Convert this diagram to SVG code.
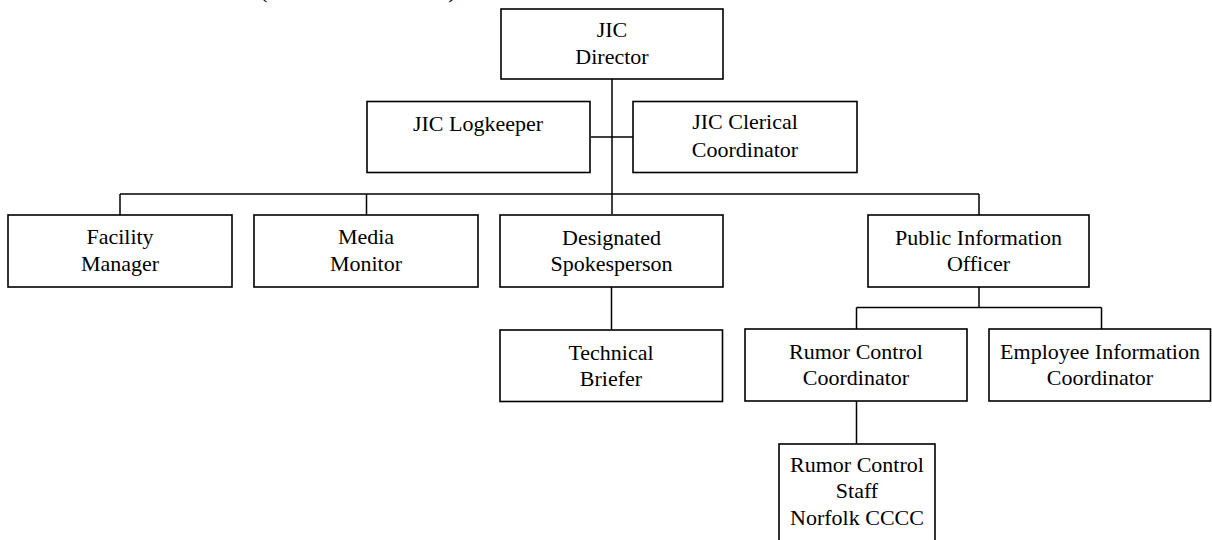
<svg xmlns="http://www.w3.org/2000/svg" width="1212" height="540" viewBox="0 0 1212 540">
<style>
.box{fill:#fff;stroke:#000;stroke-width:1.6}
.t{font-family:"Liberation Serif","Times New Roman",serif;font-size:22px;fill:#000;text-anchor:middle}
.c{fill:none;stroke:#000;stroke-width:1.5}
</style>
<rect width="1212" height="540" fill="#fff"/>
<g id="title-fragment">
<text class="t" x="264" y="-2" font-size="26">(</text>
<text class="t" x="452" y="-2" font-size="26">)</text>
</g>
<g id="connectors">
<path class="c" d="M612 79V214M591 137H633M120 194H979M120 194V215M366.5 194V215M979 194V215"/>
<path class="c" d="M611.5 287V330M979 287V307.5M856.5 307.5H1101.5M856.5 307.5V329M1101.5 307.5V329M856.5 401V444"/>
</g>
<g id="director"><rect class="box" x="501" y="9" width="222" height="70"/><text class="t" x="612" y="37">JIC</text><text class="t" x="612" y="64">Director</text></g>
<g id="logkeeper"><rect class="box" x="367" y="101.5" width="223" height="71"/><text class="t" x="478" y="131">JIC Logkeeper</text></g>
<g id="clerical"><rect class="box" x="633" y="101.5" width="224" height="71"/><text class="t" x="745" y="129">JIC Clerical</text><text class="t" x="745" y="157">Coordinator</text></g>
<g id="facility"><rect class="box" x="8" y="215" width="224" height="72"/><text class="t" x="120" y="244">Facility</text><text class="t" x="120" y="271">Manager</text></g>
<g id="media"><rect class="box" x="254" y="215" width="224" height="72"/><text class="t" x="366" y="244">Media</text><text class="t" x="366" y="271">Monitor</text></g>
<g id="spokesperson"><rect class="box" x="500" y="215" width="223" height="72"/><text class="t" x="611.5" y="245">Designated</text><text class="t" x="611.5" y="271">Spokesperson</text></g>
<g id="pio"><rect class="box" x="868" y="215" width="221" height="72"/><text class="t" x="978.5" y="245">Public Information</text><text class="t" x="978.5" y="271">Officer</text></g>
<g id="technical"><rect class="box" x="500" y="330" width="222.5" height="71.5"/><text class="t" x="611" y="360">Technical</text><text class="t" x="611" y="386">Briefer</text></g>
<g id="rumor-coordinator"><rect class="box" x="745" y="329" width="222" height="72"/><text class="t" x="856" y="359">Rumor Control</text><text class="t" x="856" y="385">Coordinator</text></g>
<g id="employee"><rect class="box" x="989" y="329" width="221.5" height="72"/><text class="t" x="1100" y="359">Employee Information</text><text class="t" x="1100" y="385">Coordinator</text></g>
<g id="rumor-staff"><rect class="box" x="779" y="444" width="156" height="110"/><text class="t" x="857" y="472">Rumor Control</text><text class="t" x="857" y="498">Staff</text><text class="t" x="857" y="525">Norfolk CCCC</text></g>
</svg>
